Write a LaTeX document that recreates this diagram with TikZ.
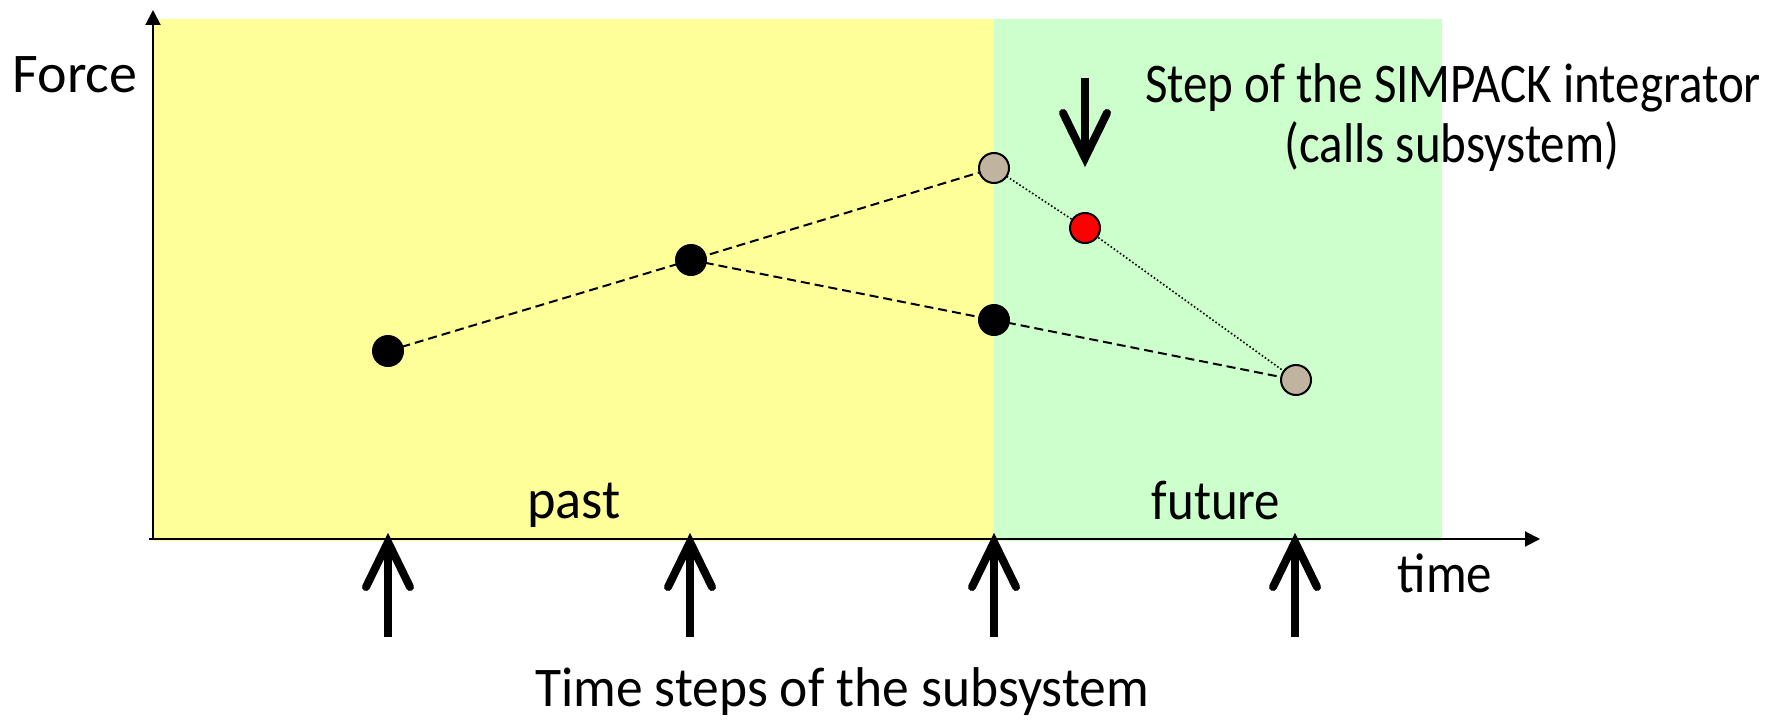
\documentclass[tikz,border=0pt]{standalone}
\usepackage{graphicx}
\usepackage{fontspec}
\setmainfont{Carlito}
\usetikzlibrary{arrows.meta,calc}
\definecolor{pastbg}{HTML}{FFFF99}
\definecolor{futbg}{HTML}{CCFFCC}
\definecolor{tan}{HTML}{C0B4A0}
\newcommand{\sq}[2]{\scalebox{#1}[1]{#2}}
\begin{document}
\begin{tikzpicture}[x=0.5pt,y=-0.5pt,
  lbl/.style={font=\fontsize{28}{31}\selectfont, inner sep=0pt, anchor=base},
  pt/.style={circle, draw=black, line width=1pt, minimum size=15pt, inner sep=0pt},
  axis/.style={line width=1pt, -{Triangle[length=7.5pt,width=7.5pt]}},
  link/.style={line width=1pt, dash pattern=on 4.5pt off 2.5pt},
  dotlink/.style={line width=0.8pt, dash pattern=on 0.8pt off 1.1pt},
  shaft/.style={line width=4pt},
  barb/.style={line width=4pt, line cap=round, line join=miter}]
\useasboundingbox (0,0) rectangle (1780,722);
% backgrounds
\fill[pastbg] (153,19) rectangle (994,541);
\fill[futbg] (994,19) rectangle (1442,541);
% axes
\coordinate (o) at (153,539);
\coordinate (xl) at (149,539);
\coordinate (xe) at (1540,539);
\coordinate (ye) at (153,10);
\draw[axis] (xl) -- (xe);
\draw[axis] (o) -- (ye);
% labels
\node[lbl] (force) at (75,93) {Force};
\node[lbl] (past) at (574,518) {\sq{0.97}{past}};
\node[lbl] (future) at (1216,519) {\sq{0.91}{future}};
\node[lbl] (time) at (1445,592) {\sq{0.91}{time}};
\node[lbl] (steps) at (842,706) {\sq{0.955}{Time steps of the subsystem}};
\node[lbl] (simp1) at (1453,103) {\sq{0.875}{Step of the SIMPACK integrator}};
\node[lbl] (simp2) at (1452,162) {\sq{0.875}{(calls subsystem)}};
% connectors
\coordinate (A) at (388,351);
\coordinate (B) at (691,260);
\coordinate (C) at (994,168);
\coordinate (D) at (994,320);
\coordinate (E) at (1085,228);
\coordinate (F) at (1296,380);
\draw[link] (A) -- (B) -- (C);
\draw[link] (B) -- (D) -- (F);
\draw[dotlink] (C) -- (E) -- (F);
% points
\node[pt, fill=black] (pA) at (A) {};
\node[pt, fill=black] (pB) at (B) {};
\node[pt, fill=tan] (pC) at (C) {};
\node[pt, fill=black] (pD) at (D) {};
\node[pt, fill=red] (pE) at (E) {};
\node[pt, fill=tan] (pF) at (F) {};
% up arrows (subsystem time steps)
\foreach \x [count=\i] in {388,690,994,1295}{
  \coordinate (up\i) at (\x,542);
  \draw[shaft] (up\i) -- ++(0,95);
  \draw[barb] ($(up\i)+(-22,45)$) -- (up\i) -- ($(up\i)+(22,45)$);
}
% down arrow (SIMPACK step)
\coordinate (dn) at (1085,158);
\draw[shaft] (dn) -- ++(0,-80);
\draw[barb] ($(dn)+(-22,-45)$) -- (dn) -- ($(dn)+(22,-45)$);
\end{tikzpicture}
\end{document}
